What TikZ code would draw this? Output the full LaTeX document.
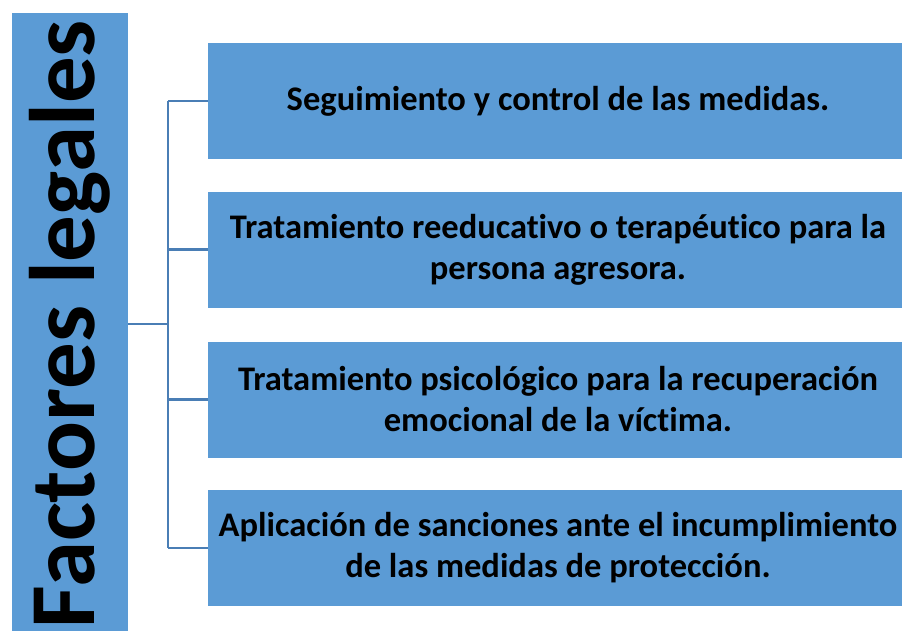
\documentclass[tikz,border=0pt]{standalone}
\usepackage{fontspec}
\setmainfont{Carlito}[Ligatures=NoCommon]
\usepackage{graphicx}

\definecolor{boxblue}{HTML}{5B9BD5}
\definecolor{linkblue}{HTML}{4A7EB5}

\begin{document}
\begin{tikzpicture}
        [x=1pt, y=-1pt, every node/.style={fill=boxblue, inner sep=0, font=\bfseries\fontsize{34.5}{41}\selectfont, align=center},
         itembox/.style={minimum width=700pt, minimum height=116pt},
         link/.style={draw=linkblue, line width=2.4pt}]

        \useasboundingbox (0,0) rectangle (902,630);

        \node[minimum width=116pt, minimum height=622pt] (fact) at (70,324) {\rotatebox{90}{\fontsize{93}{93}\selectfont Factores legales}};

        \node[itembox] (m1) at (558,101) {Seguimiento y control de las medidas.};
        \node[itembox] (m2) at (558,249.5) {Tratamiento reeducativo o terapéutico para la\\persona agresora.};
        \node[itembox] (m3) at (558,399.5) {Tratamiento psicológico para la recuperación\\emocional de la víctima.};
        \node[itembox] (m4) at (558,548) {Aplicación de sanciones ante el incumplimiento\\de las medidas de protección.};

        \coordinate (hub) at (168,324);

        \draw[link] (fact.east) -- (hub);
        \draw[link] (hub |- m1.west) -- (hub |- m4.west);
        \draw[link] (hub |- m1.west) -- (m1.west);
        \draw[link] (hub |- m2.west) -- (m2.west);
        \draw[link] (hub |- m3.west) -- (m3.west);
        \draw[link] (hub |- m4.west) -- (m4.west);
      \end{tikzpicture}
\end{document}
